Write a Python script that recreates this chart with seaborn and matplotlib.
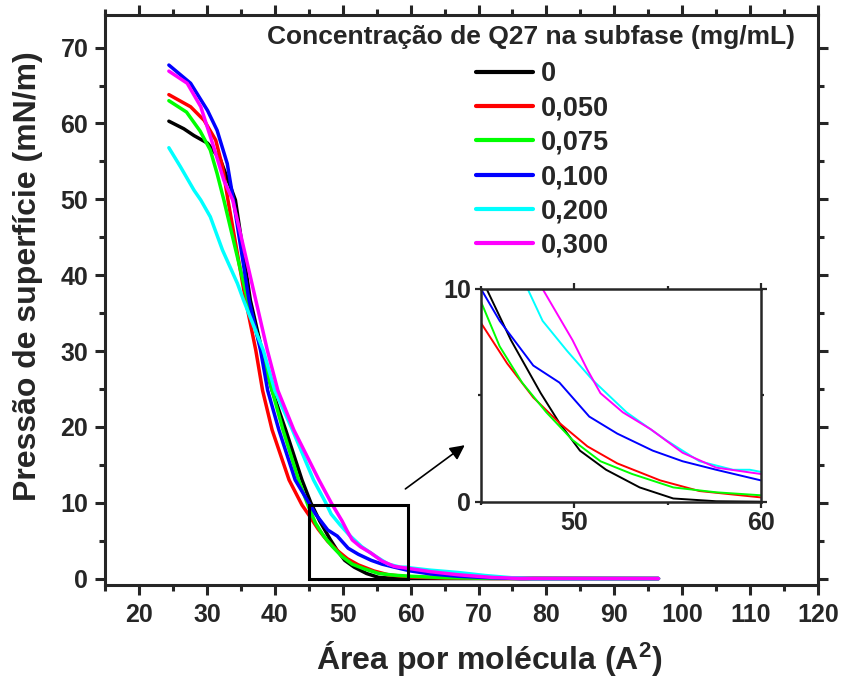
import numpy as np
import pandas as pd
import matplotlib
matplotlib.use('Agg')
import matplotlib.pyplot as plt
import seaborn as sns
from matplotlib.patches import Rectangle
from matplotlib.ticker import MultipleLocator

sns.set_style('ticks')
plt.rcParams['font.family'] = ['Liberation Sans', 'DejaVu Sans']
plt.rcParams['font.weight'] = 'bold'
plt.rcParams['mathtext.fontset'] = 'custom'
plt.rcParams['mathtext.rm'] = 'Liberation Sans:bold'
plt.rcParams['mathtext.it'] = 'Liberation Sans:bold'
plt.rcParams['mathtext.bf'] = 'Liberation Sans:bold'

# Q27 concentration in the subphase (mg/mL)
concentrations = ['0', '0,050', '0,075', '0,100', '0,200', '0,300']
colors = ['#000000', '#ff0000', '#00ff00', '#0000ff', '#00ffff', '#ff00ff']

# area per molecule (A^2) / surface pressure (mN/m)
area_0 = [24.4, 26.6, 28.1, 30.1, 32.0, 33.5, 34.2, 36.4, 38.1, 39.6, 41.6, 44.0, 45.3, 46.6,
          48.2, 49.2, 50.3, 51.7, 53.5, 55.3, 57.6, 60.0, 96.5]
pi_0 = [60.3, 59.3, 58.4, 57.4, 55.2, 51.6, 49.9, 36.7, 30.1, 24.8, 19.6, 13.0, 10.0, 7.6,
        5.1, 3.7, 2.4, 1.5, 0.67, 0.15, 0.02, 0.0, 0.0]

area_050 = [24.4, 27.6, 29.6, 31.3, 32.3, 33.1, 35.7, 37.2, 38.2, 39.6, 42.1, 44.0, 45.0, 46.4,
            47.8, 49.2, 50.7, 52.3, 54.6, 56.7, 60.0, 65.0, 72.0, 96.5]
pi_050 = [63.8, 62.2, 60.4, 57.8, 54.3, 49.9, 36.7, 30.1, 24.8, 19.6, 13.0, 9.7, 8.4, 6.5,
          4.9, 3.7, 2.6, 1.8, 1.0, 0.5, 0.2, 0.08, 0.02, 0.0]

area_075 = [24.4, 27.0, 29.0, 30.5, 31.5, 32.5, 36.0, 38.0, 39.6, 41.2, 43.5, 45.0, 46.0, 47.2,
            48.5, 49.9, 51.4, 53.1, 55.3, 57.6, 60.0, 65.0, 72.0, 96.5]
pi_075 = [63.0, 61.5, 59.0, 56.5, 53.4, 49.9, 36.7, 30.1, 24.8, 19.6, 13.0, 9.4, 7.3, 5.6,
          4.2, 2.9, 1.9, 1.3, 0.67, 0.44, 0.3, 0.12, 0.03, 0.0]

area_100 = [24.4, 27.6, 30.1, 31.5, 33.0, 33.9, 36.2, 37.9, 38.95, 40.6, 43.0, 45.0, 46.0, 47.8,
            49.2, 50.8, 52.3, 54.2, 55.8, 57.6, 60.0, 63.0, 67.0, 72.0, 76.0, 96.5]
pi_100 = [67.7, 65.3, 61.7, 59.1, 54.7, 49.9, 36.7, 30.1, 24.8, 19.6, 13.0, 10.0, 8.5, 6.4,
          5.6, 4.0, 3.2, 2.4, 1.9, 1.5, 1.0, 0.6, 0.3, 0.1, 0.0, 0.0]

area_200 = [24.4, 26.1, 28.1, 29.1, 30.5, 32.3, 34.5, 35.4, 38.3, 40.0, 42.6, 45.7, 47.5, 48.3,
            49.6, 51.0, 52.8, 54.9, 56.7, 58.5, 59.4, 60.0, 63.0, 67.0, 71.0, 75.0, 78.0, 96.5]
pi_200 = [56.8, 54.3, 51.2, 49.9, 47.7, 43.3, 38.9, 36.7, 30.1, 24.8, 19.6, 13.0, 10.0, 8.5,
          7.1, 5.7, 4.2, 2.9, 1.9, 1.5, 1.5, 1.4, 1.1, 0.8, 0.4, 0.1, 0.0, 0.0]

area_300 = [24.4, 27.1, 29.1, 31.0, 32.5, 33.8, 37.2, 38.9, 40.45, 42.8, 46.5, 48.3, 49.1, 49.9,
            50.7, 51.4, 52.6, 54.1, 55.8, 57.6, 60.0, 63.0, 67.0, 72.0, 76.0, 96.5]
pi_300 = [66.9, 65.3, 62.2, 56.9, 52.5, 49.9, 36.7, 30.1, 24.8, 19.6, 13.0, 10.0, 8.8, 7.6,
          6.2, 5.1, 4.2, 3.4, 2.3, 1.6, 1.3, 0.9, 0.5, 0.15, 0.02, 0.0]

areas = [area_0, area_050, area_075, area_100, area_200, area_300]
pressures = [pi_0, pi_050, pi_075, pi_100, pi_200, pi_300]

df = pd.concat([pd.DataFrame({'area': a, 'pi': p, 'conc': c})
                for a, p, c in zip(areas, pressures, concentrations)], ignore_index=True)


def bold_ticks(a, size):
    for lbl in a.get_xticklabels() + a.get_yticklabels():
        lbl.set_fontweight('bold')
        lbl.set_fontsize(size)


fig = plt.figure(figsize=(8.43, 6.91), dpi=100)
ax = fig.add_axes([0.1246, 0.1534, 0.8458, 0.8249])

sns.lineplot(data=df, x='area', y='pi', hue='conc', hue_order=concentrations,
             palette=colors, estimator=None, sort=False, lw=2.5, ax=ax)
handles, labels = ax.get_legend_handles_labels()
ax.get_legend().remove()

ax.set_xlim(15, 120)
ax.set_ylim(-0.85, 74.3)
ax.xaxis.set_major_locator(MultipleLocator(10))
ax.xaxis.set_minor_locator(MultipleLocator(5))
ax.yaxis.set_major_locator(MultipleLocator(10))
ax.yaxis.set_minor_locator(MultipleLocator(5))
ax.tick_params(which='both', direction='out', top=True, right=True, width=2.2)
ax.tick_params(which='major', length=7)
ax.tick_params(which='minor', length=4)
ax.tick_params(axis='x', which='major', pad=6)
ax.tick_params(axis='y', which='major', pad=5)
bold_ticks(ax, 18)
for s in ax.spines.values():
    s.set_linewidth(2.2)

ax.set_xlabel('Área por molécula (A$^{2}$)', fontsize=23, fontweight='bold')
ax.set_ylabel('Pressão de superfície (mN/m)', fontsize=23, fontweight='bold')
ax.xaxis.set_label_coords(0.539, -0.095)
ax.yaxis.set_label_coords(-0.087, 0.542)

# zoom box + arrow
ax.add_patch(Rectangle((45, 0), 14.6, 9.7, fill=False, ec='k', lw=2.2, zorder=5))
ax.annotate('', xy=(68.3, 17.8), xytext=(58.9, 11.6),
            arrowprops=dict(arrowstyle='-|>', color='k', lw=1.2, mutation_scale=22))

# legend: title as its own text, entries block below it
fig.text(531 / 843, 1 - 37 / 691, 'Concentração de Q27 na subfase (mg/mL)',
         ha='center', va='center', fontsize=19, fontweight='bold')
leg = fig.legend(handles, labels, loc='upper left',
                 bbox_to_anchor=(476 / 843, 1 - 61 / 691),
                 frameon=False, fontsize=19.5, labelspacing=0.31, handlelength=2.1,
                 handletextpad=0.3, borderpad=0.0, borderaxespad=0.0)
for line in leg.get_lines():
    line.set_linewidth(3)
for t in leg.get_texts():
    t.set_fontweight('bold')

# inset
axin = fig.add_axes([0.5706, 0.2740, 0.3321, 0.3078])
sns.lineplot(data=df, x='area', y='pi', hue='conc', hue_order=concentrations,
             palette=colors, estimator=None, sort=False, lw=1.4, legend=False, ax=axin)
axin.set_xlim(45, 60)
axin.set_ylim(0, 10)
axin.xaxis.set_major_locator(MultipleLocator(10))
axin.xaxis.set_minor_locator(MultipleLocator(5))
axin.yaxis.set_major_locator(MultipleLocator(10))
axin.yaxis.set_minor_locator(MultipleLocator(5))
axin.tick_params(which='both', direction='out', top=True, right=True, width=1.6)
axin.tick_params(which='major', length=4, pad=3)
axin.tick_params(which='minor', length=2.5)
bold_ticks(axin, 18)
axin.set_xlabel('')
axin.set_ylabel('')
for s in axin.spines.values():
    s.set_linewidth(1.8)

fig.savefig('out.png', dpi=100)
